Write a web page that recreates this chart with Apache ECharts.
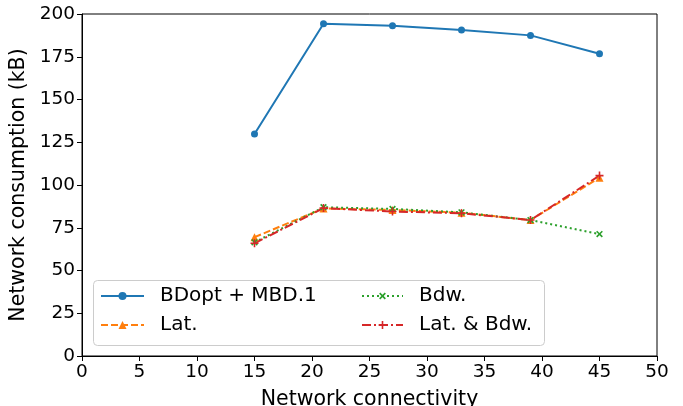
<!DOCTYPE html>
<html><head><meta charset="utf-8">
<script src="https://cdn.jsdelivr.net/npm/echarts@6/dist/echarts.min.js"></script>
<style>html,body{margin:0;padding:0;background:#fff}#c{width:683px;height:406px}</style>
</head><body><div id="c"></div>
<script>
var connectivity = [15, 21, 27, 33, 39, 45];
var bdoptMbd = [129.8, 194.3, 193.1, 190.6, 187.5, 176.8];
var lat = [69.5, 86.3, 85.4, 83.8, 79.5, 104.3];
var bdw = [66.5, 87.0, 86.0, 84.0, 79.5, 71.3];
var latBdw = [65.9, 86.5, 84.5, 83.5, 79.5, 105.5];
var xTicks = [0, 5, 10, 15, 20, 25, 30, 35, 40, 45, 50];
var yTicks = [0, 25, 50, 75, 100, 125, 150, 175, 200];

function pairs(ys) { return connectivity.map(function (x, i) { return [x, ys[i]]; }); }
var FONT = 'DejaVu Sans';
var plusPath = 'path://M4,0h2v4h4v2h-4v4h-2v-4h-4v-2h4z';

var chart = echarts.init(document.getElementById('c'), null, {renderer: 'canvas'});
var legendText = {fontSize: 20, color: '#000', fontFamily: FONT, padding: [0, 0, 0, 11], lineHeight: 22};
chart.setOption({
  animation: false,
  textStyle: {fontFamily: FONT},
  grid: {left: 82, right: 26, top: 14, bottom: 50, containLabel: false, outerBoundsMode: 'none',
    show: true, borderColor: '#000', borderWidth: 1, backgroundColor: 'transparent'},
  xAxis: {
    type: 'value', min: xTicks[0], max: xTicks[xTicks.length - 1], interval: 5,
    name: 'Network connectivity', nameLocation: 'middle', nameGap: 33,
    nameTextStyle: {fontSize: 20.5, color: '#000', fontFamily: FONT},
    axisLine: {show: true, lineStyle: {color: '#000', width: 1}},
    axisTick: {show: true, length: 5, lineStyle: {color: '#000'}},
    axisLabel: {fontSize: 18.5, color: '#000', fontFamily: FONT, margin: 7},
    splitLine: {show: false}
  },
  yAxis: {
    type: 'value', min: yTicks[0], max: yTicks[yTicks.length - 1], interval: 25,
    name: 'Network consumption (kB)', nameLocation: 'middle', nameGap: 50,
    nameTextStyle: {fontSize: 20.5, color: '#000', fontFamily: FONT},
    axisLine: {show: true, lineStyle: {color: '#000', width: 1}},
    axisTick: {show: true, length: 5, lineStyle: {color: '#000'}},
    axisLabel: {fontSize: 18.5, color: '#000', fontFamily: FONT, margin: 7},
    splitLine: {show: false}
  },
  graphic: [{
    type: 'rect', left: 93, top: 280, z: 10,
    shape: {width: 451, height: 65, r: 4},
    style: {fill: 'rgba(255,255,255,0.8)', stroke: '#cccccc', lineWidth: 1}
  }],
  legend: [{
    data: ['BDopt + MBD.1', 'Lat.'], orient: 'vertical', left: 100, top: 285, z: 20, padding: 0,
    itemWidth: 43, itemHeight: 10, itemGap: 7,
    textStyle: legendText
  }, {
    data: ['Bdw.', 'Lat. & Bdw.'], orient: 'vertical', left: 361, top: 285, z: 20, padding: 0,
    itemWidth: 41, itemHeight: 10, itemGap: 7,
    textStyle: legendText
  }],
  series: [{
    name: 'BDopt + MBD.1', type: 'line', data: pairs(bdoptMbd),
    symbol: 'circle', symbolSize: 7,
    itemStyle: {color: '#1f77b4'}, lineStyle: {color: '#1f77b4', width: 2}
  }, {
    name: 'Lat.', type: 'line', data: pairs(lat),
    symbol: 'triangle', symbolSize: 8,
    itemStyle: {color: '#ff7f0e'}, lineStyle: {color: '#ff7f0e', width: 2, type: [7, 3]}
  }, {
    name: 'Bdw.', type: 'line', data: pairs(bdw),
    symbol: plusPath, symbolSize: 8, symbolRotate: 45,
    itemStyle: {color: '#2ca02c'}, lineStyle: {color: '#2ca02c', width: 2, type: [2, 3]}
  }, {
    name: 'Lat. & Bdw.', type: 'line', data: pairs(latBdw),
    symbol: plusPath, symbolSize: 8,
    itemStyle: {color: '#d62728'}, lineStyle: {color: '#d62728', width: 2, type: [9, 3, 2, 3]}
  }]
});
</script></body></html>
